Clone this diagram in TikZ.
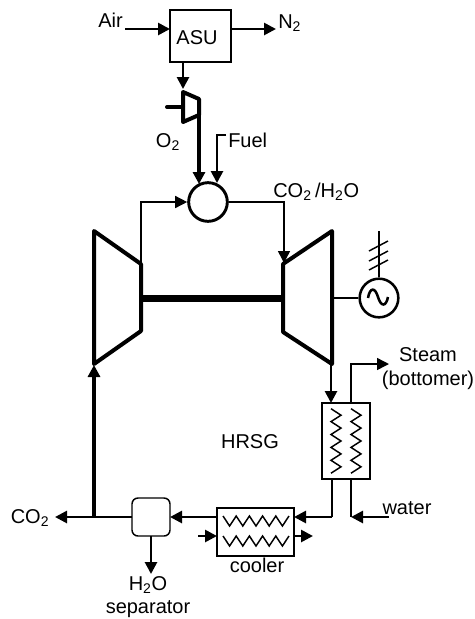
\documentclass[tikz,border=0pt]{standalone}
\usepackage{fontspec}
\setmainfont{Liberation Sans}
\usetikzlibrary{arrows.meta}
\tikzset{
  x=0.75pt,y=-0.75pt,
  lab/.style={inner sep=0pt,font=\fontsize{15}{17}\selectfont,text=black},
  labl/.style={lab,anchor=west},
  thin line/.style={line width=1.1pt},
  flow/.style={line width=2pt},
  heavy/.style={line width=3pt,line join=round},
  shaft/.style={line width=5.25pt},
  tip/.style={-{Triangle[length=9pt,width=9pt]}},
  unit/.style={draw,line width=1.5pt,inner sep=0pt},
  coil/.style={line width=1.1pt,line join=miter},
}
\newcommand{\subtwo}{\textsubscript{2}}
\begin{document}
\begin{tikzpicture}
\useasboundingbox (0,0) rectangle (475,619);
% units
\node[unit,minimum width=45.75pt,minimum height=39pt] (asu) at (200.5,36) {};
\node[lab] (asutext) at (197,38) {ASU};
\node[draw,line width=2.2pt,circle,minimum size=29pt,inner sep=0pt] (comb) at (208,202) {};
\node[draw,line width=1.9pt,circle,minimum size=29pt,inner sep=0pt] (gen) at (379,298) {};
\node[unit,minimum width=36pt,minimum height=57pt] (hrsg) at (346,441) {};
\node[unit,minimum width=57.75pt,minimum height=36pt] (cooler) at (255.5,532) {};
\node[draw,line width=1.1pt,rounded corners=4.5pt,minimum width=28.5pt,minimum height=28.5pt,inner sep=0pt] (sep) at (151,517) {};
% machine coordinates
\coordinate (c1) at (183,92); \coordinate (c2) at (199,99); \coordinate (c3) at (199,115); \coordinate (c4) at (183,122);
\coordinate (cs) at (167,107); \coordinate (cm) at (183,107);
\coordinate (lc1) at (94,231); \coordinate (lc2) at (141,264); \coordinate (lc3) at (141,331); \coordinate (lc4) at (94,364);
\coordinate (t1) at (283,264); \coordinate (t2) at (332,231); \coordinate (t3) at (332,364); \coordinate (t4) at (283,332);
\coordinate (sl) at (141,298); \coordinate (sr) at (283,298); \coordinate (tg) at (332,298);
\draw[heavy] (c1) -- (c2) -- (c3) -- (c4) -- cycle;
\draw[heavy,line cap=round] (cs) -- (cm);
\draw[heavy] (lc1) -- (lc2) -- (lc3) -- (lc4) -- cycle;
\draw[heavy] (t1) -- (t2) -- (t3) -- (t4) -- cycle;
\draw[shaft] (sl) -- (sr);
\draw[thin line] (tg) -- (gen);
% free ends and bends
\coordinate (airs) at (125,29); \coordinate (airt) at (170,29);
\coordinate (n2s) at (231,29); \coordinate (n2t) at (276,29);
\coordinate (asub) at (183,62); \coordinate (asut) at (183,89);
\coordinate (o2t) at (199,184);
\coordinate (fs) at (226,135); \coordinate (fb) at (217,135); \coordinate (ft) at (217,183);
\coordinate (lb) at (141,202); \coordinate (rb) at (284,202); \coordinate (rt) at (284,263);
\coordinate (jn) at (94,517); \coordinate (cot) at (55,517); \coordinate (jup) at (94,365);
\coordinate (hs) at (331,364); \coordinate (ht) at (331,403);
\coordinate (stb) at (351,364); \coordinate (stt) at (389,364); \coordinate (stf) at (351,403);
\coordinate (hb1) at (332,479); \coordinate (hb2) at (332,517); \coordinate (ct) at (294,517);
\coordinate (wb) at (351,479); \coordinate (wj) at (351,517); \coordinate (ws) at (389,517);
\coordinate (cl) at (217,517); \coordinate (st) at (170,517);
\coordinate (sb) at (151,536); \coordinate (sbt) at (151,574);
\coordinate (cin) at (198,536); \coordinate (cint) at (217,536);
\coordinate (cos) at (294,536); \coordinate (cot2) at (313,536);
\coordinate (g1) at (379,231); \coordinate (sw) at (132,517);
% connectors
\draw[flow,tip] (airs) -- (airt);
\draw[flow,tip] (n2s) -- (n2t);
\draw[flow,tip] (asub) -- (asut);
\draw[heavy,tip] (c3) -- (o2t);
\draw[flow,tip] (fs) -- (fb) -- (ft);
\draw[thin line,tip] (lc2) -- (lb) -- (comb);
\draw[thin line,tip] (comb) -- (rb) -- (rt);
\draw[heavy,tip,line width=2.3pt] (jn) -- (jup);
\draw[thin line] (sw) -- (jn);
\draw[flow,tip] (jn) -- (cot);
\draw[flow,tip] (hs) -- (ht);
\draw[thin line,tip] (stf) -- (stb) -- (stt);
\draw[thin line] (hb1) -- (hb2);
\draw[flow,tip] (hb2) -- (ct);
\draw[thin line] (wb) -- (wj);
\draw[flow,tip] (ws) -- (wj);
\draw[flow,tip] (cl) -- (st);
\draw[flow,tip] (sb) -- (sbt);
\draw[flow,tip] (cin) -- (cint);
\draw[flow,tip] (cos) -- (cot2);
\draw[thin line] (gen) -- (g1);
% wires on the generator lead
\draw[thin line] (369,251) -- (388,241);
\draw[thin line] (369,261) -- (388,251);
\draw[thin line] (369,270) -- (388,260);
% sine in the generator
\draw[line width=1.9pt] (368,298) .. controls (370,287) and (375,287) .. (378,297) .. controls (381,307) and (386,307) .. (388,297);
% coils
\foreach \xo in {0,20}{
  \draw[coil] (331+\xo,408.7) -- (341+\xo,415.2) -- (331+\xo,421.6) -- (341+\xo,428.1) -- (331+\xo,434.5) -- (341+\xo,441) -- (331+\xo,447.4) -- (341+\xo,453.9) -- (331+\xo,460.3) -- (341+\xo,466.8) -- (331+\xo,473.2);
}
\foreach \yo in {0,20}{
  \draw[coil] (223,516+\yo) -- (229.6,526+\yo) -- (236.2,516+\yo) -- (242.8,526+\yo) -- (249.4,516+\yo) -- (256,526+\yo) -- (262.6,516+\yo) -- (269.2,526+\yo) -- (275.8,516+\yo) -- (282.4,526+\yo) -- (289,516+\yo);
}
% labels
\node[labl] (air) at (98,20) {Air};
\node[labl] (n2) at (278,23) {N\subtwo};
\node[lab] (o2) at (168,142) {O\subtwo};
\node[labl] (fuel) at (228,140) {Fuel};
\node[labl] (cowa) at (273,192) {CO\subtwo\,/H\subtwo O};
\node[lab] (steam) at (428,355) {Steam};
\node[lab] (bott) at (428,380) {(bottomer)};
\node[lab] (hr) at (250,442) {HRSG};
\node[lab] (wat) at (407,508) {water};
\node[lab] (co2) at (30,518) {CO\subtwo};
\node[lab] (coolt) at (257,565) {cooler};
\node[lab] (h2o) at (148,585) {H\subtwo O};
\node[lab] (sept) at (148,609) {separator};
\end{tikzpicture}
\end{document}
